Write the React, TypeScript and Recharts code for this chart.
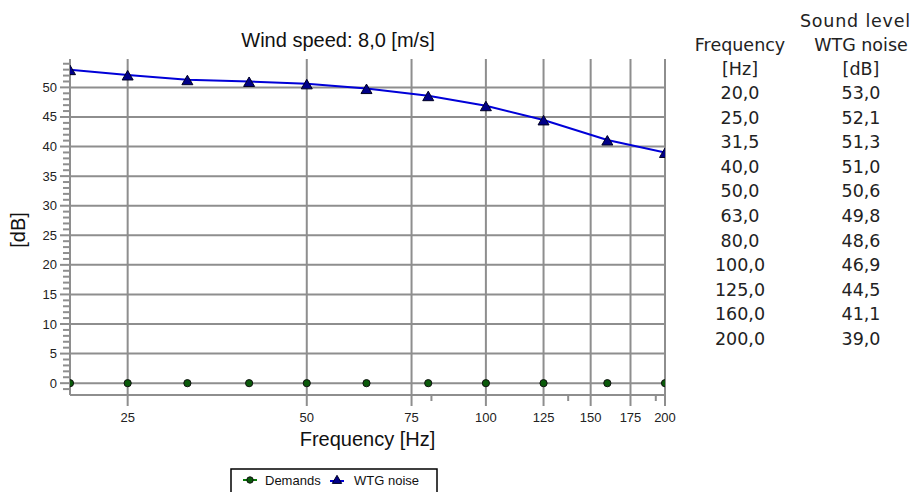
import React from 'react';
import { LineChart, Line, XAxis, YAxis, CartesianGrid } from 'recharts';

const frequencies = [20, 25, 31.5, 40, 50, 63, 80, 100, 125, 160, 200];
const wtgNoise = [53.0, 52.1, 51.3, 51.0, 50.6, 49.8, 48.6, 46.9, 44.5, 41.1, 39.0];
const demands = [0, 0, 0, 0, 0, 0, 0, 0, 0, 0, 0];

const xMajorTicks = [25, 50, 75, 100, 125, 150, 175, 200];
const xMinorTicks = [81, 137.5, 193];
const yMajorTicks = [0, 5, 10, 15, 20, 25, 30, 35, 40, 45, 50];
const yMinorTicks = [-1, 1, 2, 3, 4, 6, 7, 8, 9, 11, 12, 13, 14, 16, 17, 18, 19, 21, 22, 23, 24, 26, 27, 28, 29, 31, 32, 33, 34, 36, 37, 38, 39, 41, 42, 43, 44, 46, 47, 48, 49, 51, 52, 53, 54];

const chartTitle = 'Wind speed: 8,0 [m/s]';
const xLabel = 'Frequency [Hz]';
const yLabel = '[dB]';
const seriesNames = ['Demands', 'WTG noise'];
const tableHeaderLeft = ['Frequency', '[Hz]'];
const tableHeaderRight = ['Sound level', 'WTG noise', '[dB]'];

const data = frequencies.map((f, i) => ({ f, dem: demands[i], wtg: wtgNoise[i] }));

const W = 916;
const H = 492;
const MARGIN = { top: 59, right: 251, bottom: 57, left: 8 };
const Y_AXIS_W = 62;
const X_AXIS_H = 40;
const PLOT = {
  x: MARGIN.left + Y_AXIS_W,
  y: MARGIN.top,
  w: W - MARGIN.left - Y_AXIS_W - MARGIN.right,
  h: H - MARGIN.top - MARGIN.bottom - X_AXIS_H,
};

const GRID = '#8e8e8e';
const SANS = '"Liberation Sans", Arial, sans-serif';
const TABLE_FONT = '"DejaVu Sans", Verdana, sans-serif';
const fmt = (v: number) => v.toFixed(1).replace('.', ',');

const XTick = (props: any) => {
  const { x, y, payload } = props;
  const major = xMajorTicks.includes(payload.value);
  return (
    <g>
      <line x1={x} x2={x} y1={y} y2={y + (major ? 11 : 6)} stroke={GRID} strokeWidth={2} />
      {major && (
        <text x={x} y={y + 27} textAnchor="middle" fontSize={13} fill="#222" fontFamily={SANS}>
          {payload.value}
        </text>
      )}
    </g>
  );
};

const YTick = (props: any) => {
  const { x, y, payload } = props;
  const major = yMajorTicks.includes(payload.value);
  return (
    <g>
      <line x1={x} x2={x - (major ? 10 : 7)} y1={y} y2={y} stroke={GRID} strokeWidth={2} />
      {major && (
        <text x={x - 13} y={y + 4.5} textAnchor="end" fontSize={13} fill="#222" fontFamily={SANS}>
          {payload.value}
        </text>
      )}
    </g>
  );
};

const triPath = (cx: number, cy: number, s = 1) =>
  `M${cx},${cy - 5.5 * s} L${cx + 5.5 * s},${cy + 4 * s} L${cx - 5.5 * s},${cy + 4 * s} Z`;

const TriangleDot = (p: any) => (
  <svg key={`t-${p.index}`} x={PLOT.x} y={PLOT.y} width={PLOT.w} height={PLOT.h} overflow="hidden">
    <path d={triPath(p.cx - PLOT.x, p.cy - PLOT.y + 1)} fill="#000088" stroke="#000022" strokeWidth={1} />
  </svg>
);
const CircleDot = (p: any) => (
  <svg key={`c-${p.index}`} x={PLOT.x} y={PLOT.y} width={PLOT.w} height={PLOT.h} overflow="hidden">
    <circle cx={p.cx - PLOT.x} cy={p.cy - PLOT.y} r={3.6} fill="#0a5a0a" stroke="#111" strokeWidth={1} />
  </svg>
);

const freqRowBaseline = (i: number) => 99 + 24.6 * i;

export default function App() {
  return (
    <div style={{ position: 'absolute', left: 0, top: 0, width: W, height: H, background: '#fff', overflow: 'hidden' }}>
      <LineChart width={W} height={H} data={data} margin={MARGIN}>
        <CartesianGrid stroke={GRID} strokeWidth={2} horizontalValues={yMajorTicks} verticalValues={xMajorTicks} />
        <XAxis
          dataKey="f"
          type="number"
          scale="log"
          domain={[20, 200]}
          allowDataOverflow
          ticks={[...xMajorTicks, ...xMinorTicks]}
          interval={0}
          tick={<XTick />}
          tickLine={false}
          tickSize={0}
          tickMargin={0}
          axisLine={{ stroke: GRID, strokeWidth: 2 }}
          height={X_AXIS_H}
        />
        <YAxis
          type="number"
          domain={[-2, 54.8]}
          allowDataOverflow
          ticks={[...yMajorTicks, ...yMinorTicks]}
          interval={0}
          tick={<YTick />}
          tickLine={false}
          tickSize={0}
          tickMargin={0}
          axisLine={{ stroke: GRID, strokeWidth: 2 }}
          width={Y_AXIS_W}
        />
        <Line dataKey="dem" name={seriesNames[0]} stroke="none" strokeWidth={0} dot={CircleDot} isAnimationActive={false} />
        <Line dataKey="wtg" name={seriesNames[1]} type="linear" stroke="#0000d8" strokeWidth={2} dot={TriangleDot} isAnimationActive={false} />
      </LineChart>
      <svg width={W} height={H} style={{ position: 'absolute', left: 0, top: 0, pointerEvents: 'none' }}>
        <text x={338} y={47} textAnchor="middle" fontSize={20} fill="#111" fontFamily={SANS}>{chartTitle}</text>
        <text x={367.5} y={446} textAnchor="middle" fontSize={20} fill="#111" fontFamily={SANS}>{xLabel}</text>
        <text x={25} y={230} textAnchor="middle" fontSize={20} fill="#111" fontFamily={SANS} transform="rotate(-90 25 230)">{yLabel}</text>

        <g fontFamily={TABLE_FONT} fontSize={17.5} fill="#222">
          <text x={911} y={27} textAnchor="end" letterSpacing={0.8}>{tableHeaderRight[0]}</text>
          <text x={740} y={50.5} textAnchor="middle">{tableHeaderLeft[0]}</text>
          <text x={861} y={50.5} textAnchor="middle">{tableHeaderRight[1]}</text>
          <text x={740} y={74.5} textAnchor="middle">{tableHeaderLeft[1]}</text>
          <text x={861} y={74.5} textAnchor="middle">{tableHeaderRight[2]}</text>
          {frequencies.map((f, i) => (
            <text key={`f${i}`} x={740} y={freqRowBaseline(i)} textAnchor="middle">{fmt(f)}</text>
          ))}
          {wtgNoise.map((v, i) => (
            <text key={`v${i}`} x={861} y={freqRowBaseline(i)} textAnchor="middle">{fmt(v)}</text>
          ))}
        </g>

        <rect x={231} y={469} width={206} height={30} fill="#fff" stroke="#000" strokeWidth={1.5} />
        <line x1={243} x2={257} y1={480} y2={480} stroke="#0a7a0a" strokeWidth={2} />
        <circle cx={250} cy={480} r={3.2} fill="#0a5a0a" stroke="#111" strokeWidth={1} />
        <text x={265} y={485} fontSize={13} fill="#111" fontFamily={SANS}>{seriesNames[0]}</text>
        <line x1={330} x2={344} y1={481} y2={481} stroke="#0000d8" strokeWidth={2} />
        <path d={triPath(337, 480, 0.85)} fill="#000088" stroke="#000022" strokeWidth={1} />
        <text x={354} y={485} fontSize={13} fill="#111" fontFamily={SANS}>{seriesNames[1]}</text>
      </svg>
    </div>
  );
}
